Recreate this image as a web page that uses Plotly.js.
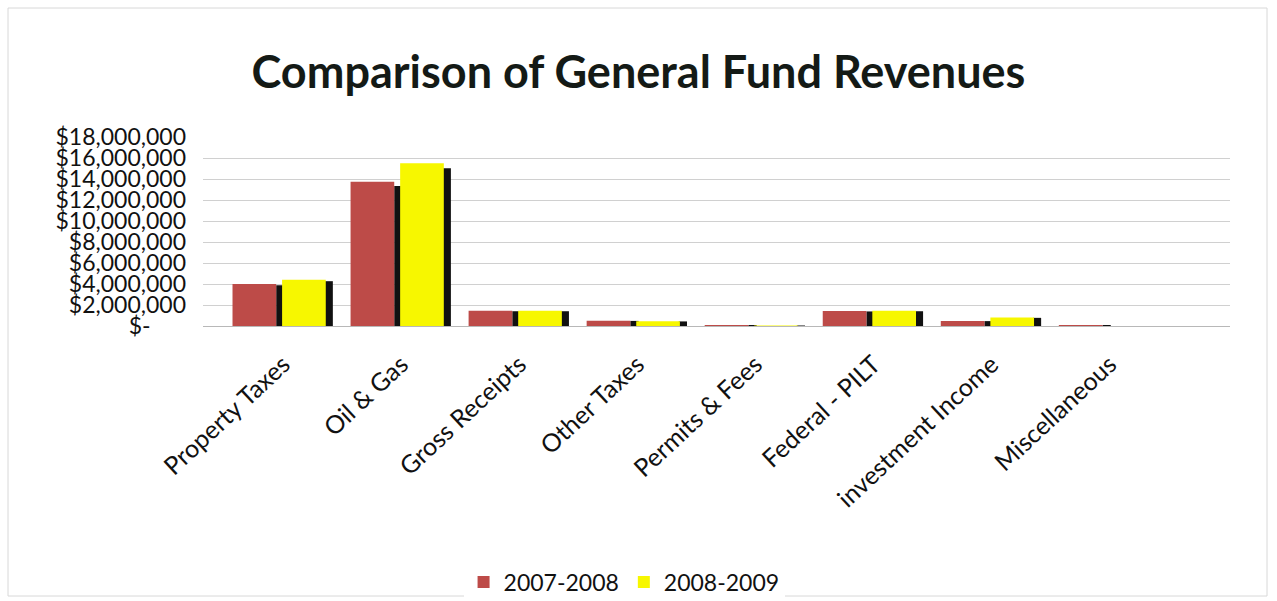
<!DOCTYPE html>
<html><head><meta charset="utf-8">
<script src="https://cdn.plot.ly/plotly-3.0.1.min.js"></script>
<style>body{margin:0;background:#fff}#c{width:1277px;height:601px}</style>
</head><body><div id="c"></div>
<script>
const categories = ["Property Taxes","Oil & Gas","Gross Receipts","Other Taxes","Permits & Fees","Federal - PILT","investment Income","Miscellaneous"];
const rev2007 = [4000000,13750000,1450000,500000,100000,1430000,480000,100000];
const rev2008 = [4400000,15500000,1450000,450000,50000,1450000,800000,0];
const seriesNames = ["2007-2008","2008-2009"];
const tickVals = [0,2000000,4000000,6000000,8000000,10000000,12000000,14000000,16000000,18000000];
const tickText = ["$-\u00A0\u00A0\u00A0\u00A0\u00A0\u00A0","$2,000,000","$4,000,000","$6,000,000","$8,000,000","$10,000,000","$12,000,000","$14,000,000","$16,000,000","$18,000,000"];

const idx = categories.map((c,i)=>i);
const red = "#bd4b48", yellow = "#f7f700", shadow = "#111111";
const traces = [
  {type:"bar", x:idx, y:rev2007.map(v=>v*0.97), offset:-0.06, width:0.07, marker:{color:shadow}, showlegend:false, hoverinfo:"skip"},
  {type:"bar", x:idx, y:rev2008.map(v=>v*0.97), offset:0.35, width:0.07, marker:{color:shadow}, showlegend:false, hoverinfo:"skip"},
  {type:"bar", name:seriesNames[0], x:idx, y:rev2007, offset:-0.43, width:0.37, marker:{color:red}},
  {type:"bar", name:seriesNames[1], x:idx, y:rev2008, offset:-0.01, width:0.37, marker:{color:yellow}}
];
const layout = {
  width:1277, height:601,
  paper_bgcolor:"#fff", plot_bgcolor:"#fff",
  margin:{l:203, r:47, t:137, b:275},
  barmode:"overlay",
  font:{family:"Lato, 'Open Sans', sans-serif", color:"#111"},
  title:{text:"<b>Comparison of General Fund Revenues</b>", x:0.5, xref:"container", xanchor:"center", y:1-72/601, yref:"container", yanchor:"middle",
         font:{size:45, family:"Lato, 'Open Sans', sans-serif", color:"#141a16"}},
  xaxis:{range:[-0.68,8.02], tickvals:idx, ticktext:categories, tickangle:-43, showgrid:false, zeroline:false, showline:false,
         ticks:"", tickfont:{size:25, color:"#111"}, ticklabelstandoff:18},
  yaxis:{range:[0,18000000], tickvals:tickVals, ticktext:tickText, showgrid:true, gridcolor:"#d0d0d0", gridwidth:1,
         zeroline:true, zerolinecolor:"#b8b8b8", showline:false, tickfont:{size:23, color:"#111"}, ticks:"", ticklabelstandoff:16},
  legend:{orientation:"h", x:0.41, xanchor:"center", xref:"paper", y:1-582/601, yref:"container", yanchor:"middle",
          font:{size:23, color:"#111"}, itemwidth:30, traceorder:"normal"},
  shapes:[{type:"rect", xref:"paper", yref:"paper", x0:-195/1027, x1:(1267-203)/1027, y0:-270/189, y1:(326-8)/189, line:{color:"#d8d8d8", width:1}}]
};
Plotly.newPlot("c", traces, layout, {staticPlot:true});
</script></body></html>
